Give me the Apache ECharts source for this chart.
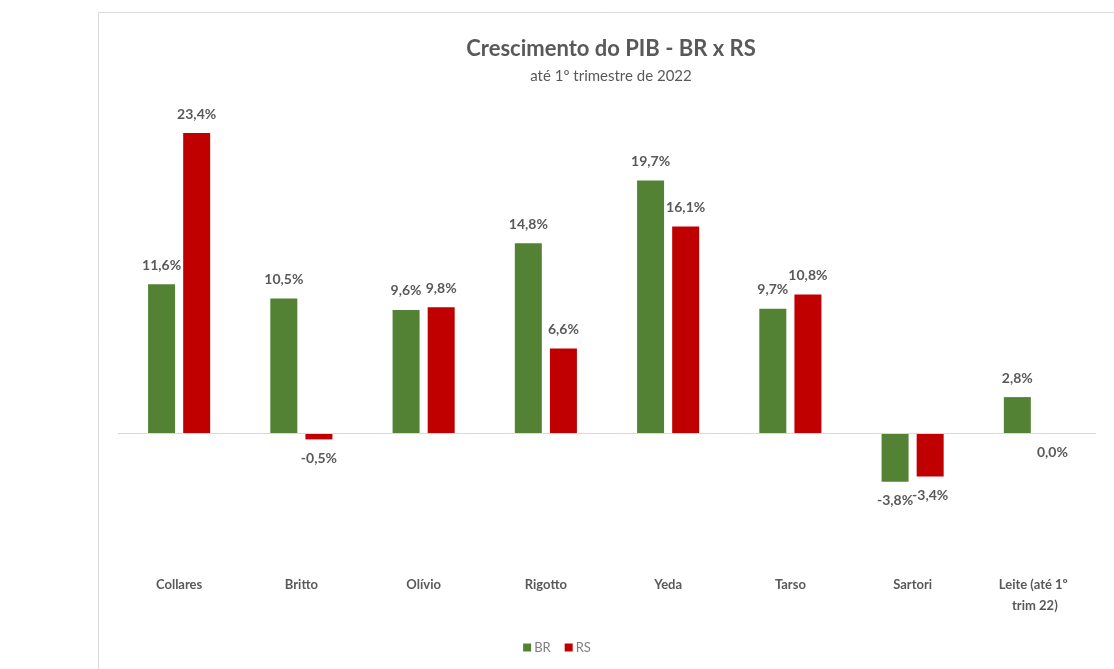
<!DOCTYPE html>
<html>
<head>
<meta charset="utf-8">
<title>Crescimento do PIB - BR x RS</title>
<script src="https://cdn.jsdelivr.net/npm/echarts@6/dist/echarts.min.js"></script>
<style>
  html, body { margin: 0; padding: 0; background: #ffffff; }
  #chart { width: 1114px; height: 669px; }
</style>
</head>
<body>
<div id="chart"></div>
<script>
// Governos (categorias do eixo X)
const categories = ['Collares', 'Britto', 'Olívio', 'Rigotto', 'Yeda', 'Tarso', 'Sartori', 'Leite (até 1º trim 22)'];
// Crescimento acumulado do PIB em cada governo (%)
const brValues = [11.6, 10.5, 9.6, 14.8, 19.7, 9.7, -3.8, 2.8];
const rsValues = [23.4, -0.5, 9.8, 6.6, 16.1, 10.8, -3.4, 0.0];

const GREEN = '#548235';
const RED = '#c00000';
const TEXT = '#595959';
const FONT = 'Lato, "Open Sans", sans-serif';

const fmt = v => v.toFixed(1).replace('.', ',') + '%';

// Rótulos acima das barras positivas e abaixo das negativas/nulas
const toItems = values => values.map(v => ({
  value: v,
  label: v > 0 ? { position: 'top', distance: 12 } : { position: 'bottom', distance: 12 }
}));

const labelStyle = {
  show: true,
  color: TEXT,
  fontFamily: FONT,
  fontWeight: 'bold',
  fontSize: 14,
  formatter: p => fmt(p.value)
};

const chart = echarts.init(document.getElementById('chart'), null, { renderer: 'canvas' });

chart.setOption({
  animation: false,
  backgroundColor: '#ffffff',
  graphic: [{
    type: 'rect',
    shape: { x: 98.5, y: 12.5, width: 1100, height: 700 },
    style: { fill: 'none', stroke: '#d9d9d9', lineWidth: 1 },
    silent: true
  }],
  title: [{
    text: 'Crescimento do PIB - BR x RS',
    left: 606,
    top: 33,
    textAlign: 'center',
    textStyle: { color: TEXT, fontFamily: FONT, fontWeight: 'bold', fontSize: 22 }
  }, {
    text: 'até 1º trimestre de 2022',
    left: 606,
    top: 64,
    textAlign: 'center',
    textStyle: { color: TEXT, fontFamily: FONT, fontWeight: 'normal', fontSize: 15 }
  }],
  legend: {
    data: ['BR', 'RS'],
    bottom: 10,
    left: 'center',
    icon: 'rect',
    itemWidth: 8,
    itemHeight: 8,
    itemGap: 14,
    textStyle: { color: '#7f7f7f', fontFamily: FONT, fontSize: 13, padding: [0, 0, 0, -2] }
  },
  grid: { left: 118, right: 18, top: 112.5, height: 448.7 },
  xAxis: {
    type: 'category',
    data: categories,
    axisLine: { show: false, onZero: false },
    axisTick: { show: false },
    axisLabel: {
      margin: 13,
      color: TEXT,
      fontFamily: FONT,
      fontWeight: 'bold',
      fontSize: 13,
      lineHeight: 21,
      width: 100,
      overflow: 'break',
      interval: 0
    }
  },
  yAxis: {
    type: 'value',
    min: -10,
    max: 25,
    interval: 5,
    show: false,
    splitLine: { show: false }
  },
  series: [{
    name: 'BR',
    type: 'bar',
    data: toItems(brValues),
    barWidth: 27,
    barGap: '30%',
    itemStyle: { color: GREEN },
    label: labelStyle,
    markLine: {
      silent: true,
      symbol: 'none',
      label: { show: false },
      lineStyle: { color: '#d9d9d9', width: 1, type: 'solid' },
      data: [{ yAxis: 0 }]
    }
  }, {
    name: 'RS',
    type: 'bar',
    data: toItems(rsValues),
    barWidth: 27,
    barGap: '30%',
    itemStyle: { color: RED },
    label: labelStyle
  }]
});
</script>
</body>
</html>
